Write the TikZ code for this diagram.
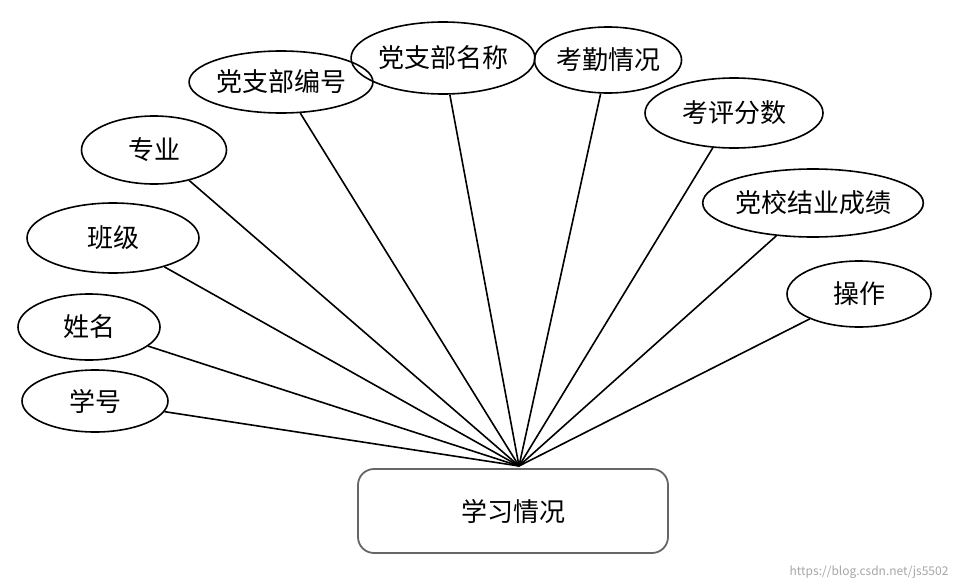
\documentclass[tikz,border=0pt]{standalone}
\usepackage{fontspec}
\setmainfont{Noto Sans CJK SC}
\usetikzlibrary{shapes.geometric}
\tikzset{attr/.style={draw, line width=1.6pt, ellipse, inner sep=0pt, font=\fontsize{26}{28}\selectfont},
  entity/.style={draw=black!60, line width=1.8pt, rounded corners=16pt, minimum width=310pt, minimum height=84pt, font=\fontsize{26}{28}\selectfont}}
\begin{document}
\begin{tikzpicture}[x=1pt,y=-1pt]
\useasboundingbox (0,0) rectangle (956,584);
\node[entity] (xxqk) at (513,511) {学习情况};
\coordinate (hub) at (519,466);

\node[attr, minimum width=146pt, minimum height=62pt] (xh) at (95,401) {学号};
\node[attr, minimum width=142pt, minimum height=66pt] (xm) at (89,327) {姓名};
\node[attr, minimum width=172pt, minimum height=70pt] (bj) at (113,238) {班级};
\node[attr, minimum width=145pt, minimum height=68pt] (zy) at (154,150) {专业};
\node[attr, minimum width=178pt, minimum height=62pt] (dzbbh) at (281,82) {党支部编号};
\node[attr, minimum width=164pt, minimum height=72pt] (dzbmc) at (443,58) {党支部名称};
\node[attr, minimum width=141pt, minimum height=66pt] (kqqk) at (608,60) {考勤情况};
\node[attr, minimum width=178pt, minimum height=70pt] (kpfs) at (734,113) {考评分数};
\node[attr, minimum width=201pt, minimum height=68pt] (dxjy) at (813,203) {党校结业成绩};
\node[attr, minimum width=144pt, minimum height=66pt] (cz) at (859,294) {操作};

\foreach \n in {xh,xm,bj,zy,dzbbh,dzbmc,kqqk,kpfs,dxjy,cz}
  \draw[line width=1.6pt] (\n) -- (hub);

\node[anchor=south east, text=black!35, font=\fontsize{12}{13}\selectfont] (wm) at (952,582) {https://blog.csdn.net/js5502};
\end{tikzpicture}
\end{document}
